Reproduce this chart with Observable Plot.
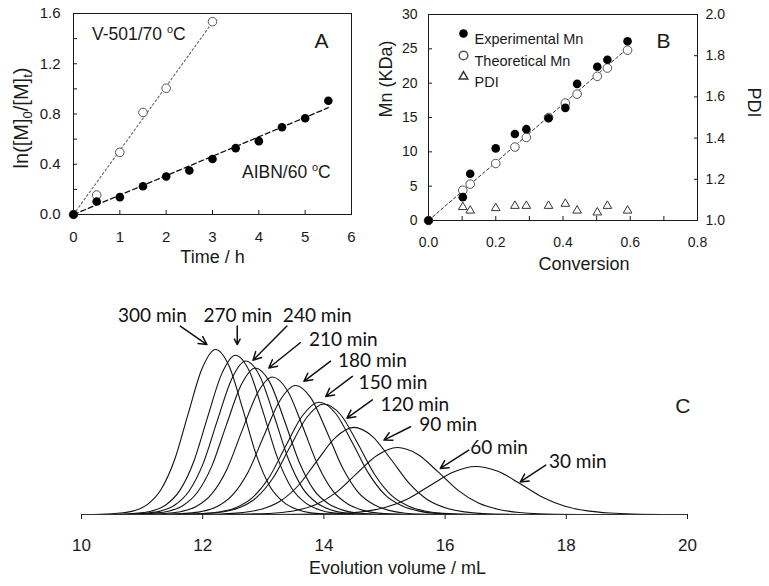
<!DOCTYPE html>
<html><head><meta charset="utf-8">
<script src="https://cdn.jsdelivr.net/npm/d3@7"></script>
<script src="https://cdn.jsdelivr.net/npm/@observablehq/plot@0.6"></script>
<style>
body{margin:0;background:#fff}
#wrap{position:relative;width:769px;height:586px;overflow:hidden;background:#fff}
#wrap > div{position:absolute}
svg{overflow:visible}
</style></head><body>
<div id="wrap">
<div id="pa" style="left:0;top:0"></div>
<div id="pb1" style="left:360px;top:0"></div>
<div id="pb2" style="left:360px;top:0"></div>
<div id="pc" style="left:0;top:280px"></div>
</div>
<script>
// ---------- Panel A data ----------
const timeH   = [0, 0.5, 1, 1.5, 2, 2.5, 3, 3.5, 4, 4.5, 5, 5.5];
const aibnLn  = [0, 0.103, 0.138, 0.225, 0.302, 0.35, 0.442, 0.528, 0.584, 0.694, 0.766, 0.906];
const v501Time = [0, 0.5, 1, 1.5, 2, 3];
const v501Ln   = [0, 0.155, 0.495, 0.812, 1.005, 1.535];
const aibnFitTime = [0, 5.5];
const aibnFitLn   = [0, 0.85];
const v501FitTime = [0, 3.0];
const v501FitLn   = [0, 1.53];
const aTicksX = [0, 1, 2, 3, 4, 5, 6];
const aTicksY = [0, 0.4, 0.8, 1.2, 1.6];
const aMinorY = [0, 0.2, 0.4, 0.6, 0.8, 1.0, 1.2, 1.4, 1.6];

// ---------- Panel B data ----------
const conversion = [0, 0.102, 0.124, 0.2, 0.257, 0.291, 0.357, 0.407, 0.442, 0.502, 0.532, 0.592];
const expMn      = [0, 3.4, 6.8, 10.5, 12.6, 13.3, 14.9, 16.4, 19.9, 22.4, 23.4, 26.1];
const theoMn     = [0, 4.4, 5.3, 8.3, 10.7, 12.1, 15.0, 17.1, 18.4, 21.0, 22.2, 24.8];
const pdi        = [null, 1.065, 1.048, 1.06, 1.071, 1.071, 1.071, 1.081, 1.048, 1.039, 1.071, 1.048];
const bFitConv = [0, 0.595];
const bFitMn   = [0, 25.2];
const bTicksX = [0, 0.2, 0.4, 0.6, 0.8];
const bMinorX = [0, 0.1, 0.2, 0.3, 0.4, 0.5, 0.6, 0.7, 0.8];
const bTicksY = [0, 5, 10, 15, 20, 25, 30];
const bTicksPdi = [1.0, 1.2, 1.4, 1.6, 1.8, 2.0];
const legendLabels = ["Experimental Mn", "Theoretical Mn", "PDI"];

// ---------- Panel C data ----------
const peakVol    = [12.21, 12.54, 12.71, 12.87, 13.15, 13.53, 13.92, 14.0, 14.49, 15.21, 16.5];
const peakHeight = [100, 96.5, 93, 88.8, 83.3, 78.2, 68, 67, 52.8, 40.6, 29.1];
const peakWidth  = [0.45, 0.46, 0.47, 0.48, 0.5, 0.52, 0.55, 0.56, 0.61, 0.67, 0.74];
// shape of one trace (offset in peak widths, relative height)
const profileOffset = [-4.5, -4, -3.5, -3, -2.5, -2, -1.5, -1, -0.5, 0, 0.5, 1, 1.5, 2, 2.5, 3, 3.5, 4.5];
const profileRel    = [0, 0.003, 0.009, 0.022, 0.06, 0.15, 0.33, 0.61, 0.88, 1, 0.9, 0.64, 0.36, 0.17, 0.075, 0.03, 0.01, 0];
const cTicks = [10, 12, 14, 16, 18, 20];
const labelText  = ["300 min", "270 min", "240 min", "210 min", "180 min", "150 min", "120 min", "90 min", "60 min", "30 min"];
const labelVol   = [11.17, 12.58, 13.89, 14.32, 14.80, 15.14, 15.50, 16.05, 16.89, 18.19];
const labelLevel = [120.3, 120.3, 120.3, 106.1, 92.9, 79.7, 66.5, 54.3, 40.1, 31.9];
const arrowVol1  = [11.63, 12.57, 13.39, 13.61, 14.11, 14.47, 14.80, 15.43, 16.39, 17.66];
const arrowLev1  = [114.2, 114.2, 114.2, 104.1, 92.9, 83.7, 69.5, 53.2, 39.0, 29.9];
const arrowVol2  = [12.07, 12.57, 12.83, 13.09, 13.67, 14.03, 14.38, 14.99, 15.92, 17.24];
const arrowLev2  = [103.0, 103.0, 93.5, 88.8, 80.7, 71.5, 58.4, 45.1, 27.9, 19.7];

const font = "'Liberation Sans', Arial, Helvetica, sans-serif";
const ink = "#1a1a1a";

function addRich(svg, x, y, parts, size, rotate = 0, anchor = "start") {
  const t = d3.select(svg).append("text")
    .attr("transform", `translate(${x},${y}) rotate(${rotate})`)
    .attr("font-family", font).attr("font-size", size)
    .attr("fill", ink).attr("text-anchor", anchor);
  for (const [s, kind] of parts) {
    const ts = t.append("tspan").text(s);
    if (kind === "sub") ts.attr("font-size", size * 0.65).attr("baseline-shift", -Math.round(size * 0.2));
    if (kind === "sup") ts.attr("font-size", size * 0.62).attr("baseline-shift", Math.round(size * 0.42));
  }
}

// ---------- Panel A ----------
const aibnRows = timeH.map((t, i) => ({t, v: aibnLn[i]}));
const v501Rows = v501Time.map((t, i) => ({t, v: v501Ln[i]}));
const aibnFit = aibnFitTime.map((t, i) => ({t, v: aibnFitLn[i]}));
const v501Fit = v501FitTime.map((t, i) => ({t, v: v501FitLn[i]}));

const plotA = Plot.plot({
  width: 380, height: 275,
  marginLeft: 73, marginRight: 29, marginTop: 13, marginBottom: 61,
  style: {fontFamily: font, fontSize: "15px", color: ink, background: "transparent", overflow: "visible"},
  x: {domain: [0, 6]},
  y: {domain: [0, 1.6]},
  marks: [
    Plot.axisX({ticks: aTicksX, tickSize: -4, tickFormat: () => "", label: null}),
    Plot.axisX({ticks: aTicksX, tickSize: 0, tickPadding: 17, tickFormat: d => String(d), label: null}),
    Plot.axisY({ticks: aMinorY, tickSize: -4, tickFormat: () => "", label: null}),
    Plot.axisY({ticks: aTicksY, tickSize: 0, tickPadding: 13, tickFormat: d => d.toFixed(1), label: null}),
    Plot.frame({stroke: ink}),
    Plot.line(v501Fit, {x: "t", y: "v", stroke: "#666", strokeWidth: 1.1, strokeDasharray: "2,2.5"}),
    Plot.line(aibnFit, {x: "t", y: "v", stroke: "#111", strokeWidth: 1.3, strokeDasharray: "5,3"}),
    Plot.dot(v501Rows, {x: "t", y: "v", r: 4.3, stroke: "#555", fill: "white", strokeWidth: 1}),
    Plot.dot(aibnRows, {x: "t", y: "v", r: 4.3, fill: "#000"}),
    Plot.text(["Time / h"], {frameAnchor: "bottom", dy: 48, fontSize: 18}),
    Plot.text(["A"], {frameAnchor: "top-right", dx: -23, dy: 20, fontSize: 21})
  ]
});
document.getElementById("pa").append(plotA);
addRich(plotA, 28, 118, [["ln([M]"], ["0", "sub"], ["/[M]"], ["t", "sub"], [")"]], 20, -90, "middle");
addRich(plotA, 92, 40, [["V-501/70 "], ["o", "sup"], ["C"]], 17.5);
addRich(plotA, 242, 178, [["AIBN/60 "], ["o", "sup"], ["C"]], 17.5);

// ---------- Panel B (left axis) ----------
const expRows  = conversion.map((c, i) => ({c, m: expMn[i]}));
const theoRows = conversion.map((c, i) => ({c, m: theoMn[i]}));
const pdiRows  = conversion.map((c, i) => ({c, p: pdi[i]}));
const bFit = bFitConv.map((c, i) => ({c, m: bFitMn[i]}));

const bBox = {width: 409, height: 275, marginLeft: 68, marginRight: 72, marginTop: 14, marginBottom: 55};
const plotB1 = Plot.plot({
  ...bBox,
  style: {fontFamily: font, fontSize: "14px", color: ink, background: "transparent", overflow: "visible"},
  x: {domain: [0, 0.8]},
  y: {domain: [0, 30]},
  marks: [
    Plot.axisX({ticks: bMinorX, tickSize: -4, tickFormat: () => "", label: null}),
    Plot.axisX({ticks: bTicksX, tickSize: 0, tickPadding: 17, tickFormat: d => d.toFixed(1), label: null}),
    Plot.axisY({ticks: bTicksY, tickSize: -4, tickFormat: () => "", label: null}),
    Plot.axisY({ticks: bTicksY, tickSize: 0, tickPadding: 11, tickFormat: d => String(d), label: null}),
    Plot.frame({stroke: ink}),
    Plot.line(bFit, {x: "c", y: "m", stroke: "#333", strokeWidth: 1, strokeDasharray: "3,2.5"}),
    Plot.dot(theoRows, {x: "c", y: "m", r: 4.3, stroke: "#555", fill: "white", strokeWidth: 1}),
    Plot.dot(expRows, {x: "c", y: "m", r: 4.3, fill: "#000"}),
    // legend
    Plot.dot([0], {frameAnchor: "top-left", dx: 35, dy: 19, r: 4.3, fill: "#000"}),
    Plot.dot([0], {frameAnchor: "top-left", dx: 35, dy: 41, r: 4.3, stroke: "#555", fill: "white"}),
    Plot.dot([0], {frameAnchor: "top-left", dx: 35, dy: 62, r: 3.2, symbol: "triangle", stroke: "#333", fill: "none"}),
    Plot.text([legendLabels[0]], {frameAnchor: "top-left", dx: 46, dy: 19, textAnchor: "start", fontSize: 14.5}),
    Plot.text([legendLabels[1]], {frameAnchor: "top-left", dx: 46, dy: 41, textAnchor: "start", fontSize: 14.5}),
    Plot.text([legendLabels[2]], {frameAnchor: "top-left", dx: 46, dy: 62, textAnchor: "start", fontSize: 14.5}),
    Plot.text(["B"], {frameAnchor: "top-right", dx: -27, dy: 19, fontSize: 21}),
    Plot.text(["Conversion"], {frameAnchor: "bottom", dx: 21, dy: 49, fontSize: 18}),
    Plot.text(["Mn (KDa)"], {frameAnchor: "left", dx: -42, rotate: -90, fontSize: 18})
  ]
});
document.getElementById("pb1").append(plotB1);

// ---------- Panel B (right axis, PDI) ----------
const plotB2 = Plot.plot({
  ...bBox,
  style: {fontFamily: font, fontSize: "14px", color: ink, background: "transparent", overflow: "visible"},
  x: {domain: [0, 0.8], axis: null},
  y: {domain: [1, 2], axis: null},
  marks: [
    Plot.axisY({anchor: "right", ticks: bTicksPdi, tickSize: -4, tickFormat: () => "", label: null}),
    Plot.axisY({anchor: "right", ticks: bTicksPdi, tickSize: 0, tickPadding: 8, tickFormat: d => d.toFixed(1), label: null}),
    Plot.dot(pdiRows, {x: "c", y: "p", r: 3.2, symbol: "triangle", stroke: "#333", fill: "none", strokeWidth: 1}),
    Plot.text(["PDI"], {frameAnchor: "right", dx: 56, rotate: 90, fontSize: 18})
  ]
});
document.getElementById("pb2").append(plotB2);

// ---------- Panel C ----------
const curveRows = [];
peakVol.forEach((c, i) => profileOffset.forEach((o, j) =>
  curveRows.push({curve: i, vol: c + o * peakWidth[i], h: peakHeight[i] * profileRel[j]})));
const labelRows = labelText.map((t, i) => ({t, x: labelVol[i], y: labelLevel[i]}));
const arrowRows = labelText.map((t, i) => ({x1: arrowVol1[i], y1: arrowLev1[i], x2: arrowVol2[i], y2: arrowLev2[i]}));

const plotC = Plot.plot({
  width: 769, height: 306,
  marginLeft: 81, marginRight: 82, marginTop: 69, marginBottom: 72,
  style: {fontFamily: font, fontSize: "17px", color: ink, background: "transparent", overflow: "visible"},
  x: {domain: [10, 20]},
  y: {domain: [0, 100], axis: null},
  marks: [
    Plot.line(curveRows, {x: "vol", y: "h", z: "curve", curve: "monotone-x", stroke: "#111", strokeWidth: 1.1}),
    Plot.ruleY([0], {stroke: "#333"}),
    Plot.axisX({ticks: cTicks, tickSize: 5, tickPadding: 19, label: null}),
    Plot.arrow(arrowRows, {x1: "x1", y1: "y1", x2: "x2", y2: "y2", stroke: "#111", strokeWidth: 1.5, headLength: 9, headAngle: 55}),
    Plot.text(labelRows, {x: "x", y: "y", text: "t", fontFamily: "Lato, 'Open Sans', sans-serif", fontSize: 19, fill: "#111"}),
    Plot.text(["Evolution volume / mL"], {frameAnchor: "bottom", dx: 13, dy: 59, fontSize: 18}),
    Plot.text(["C"], {frameAnchor: "top-right", dx: 3, dy: 49, fontSize: 21})
  ]
});
document.getElementById("pc").append(plotC);
</script>
</body></html>
